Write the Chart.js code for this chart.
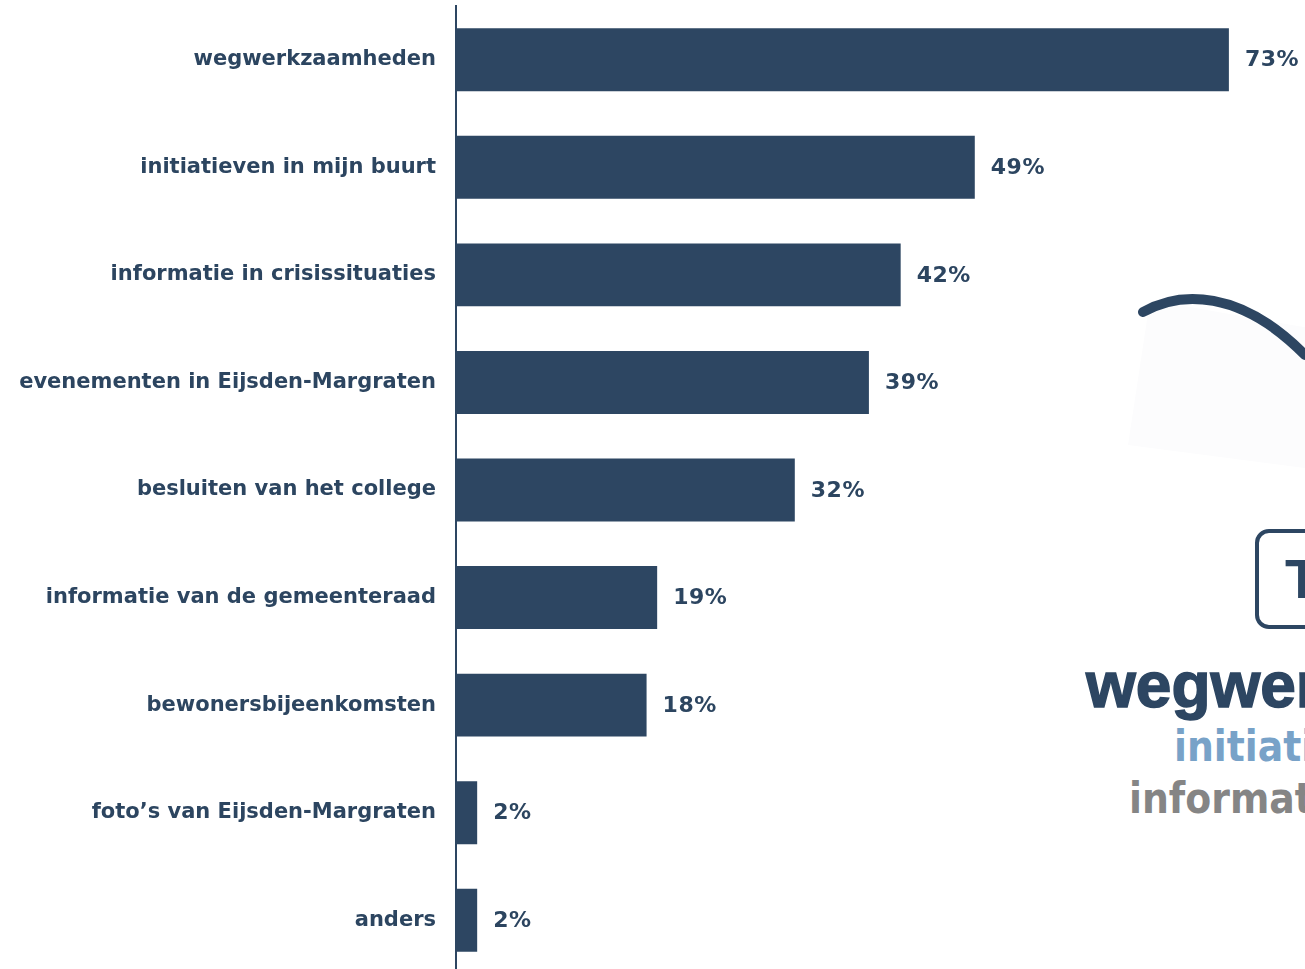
<!DOCTYPE html>
<html>
<head>
<meta charset="utf-8">
<script src="https://cdn.jsdelivr.net/npm/chart.js@4"></script>
<style>
  html, body { margin: 0; padding: 0; background: #fff; overflow: hidden; }
  #wrap { position: relative; width: 1305px; height: 969px; overflow: hidden; }
  #box { position: absolute; left: 0; top: 0; width: 1305px; height: 974px; }
  .deco { position: absolute; white-space: nowrap; }
  #top3 {
    left: 1255px; top: 529px; width: 160px; height: 92px;
    border: 4px solid #2d4662; border-radius: 14px; box-sizing: content-box;
    font: bold 56px 'Liberation Sans', Arial, sans-serif; color: #2d4662;
    line-height: 92px; padding-left: 26px;
  }
  #t1 { left: 1086px; top: 648px; font: bold 64px 'Liberation Sans', Arial, sans-serif; color: #2d4662; -webkit-text-stroke: 1.5px #2d4662; }
  #t2 { left: 1174px; top: 722px; font: bold 42px 'Liberation Sans Narrow', 'DejaVu Sans Condensed', sans-serif; color: #78a2c8; }
  #t3 { left: 1129px; top: 774px; font: bold 42px 'Liberation Sans Narrow', 'DejaVu Sans Condensed', sans-serif; color: #858585; }
  svg { position: absolute; left: 0; top: 0; }
</style>
</head>
<body>
<div id="wrap">
  <svg width="1305" height="969">
    <polygon points="1150,300 1320,330 1320,470 1128,445" fill="#fcfcfd"/>
    <path d="M1143,312 C1180,291 1240,289 1305,355" stroke="#2d4662" stroke-width="10" fill="none" stroke-linecap="round"/>
  </svg>
  <div class="deco" id="top3">Top 3</div>
  <div class="deco" id="t1">wegwerkzaamheden</div>
  <div class="deco" id="t2">initiatieven in mijn buurt</div>
  <div class="deco" id="t3">informatie in crisissituaties</div>
  <div id="box"><canvas id="chart"></canvas></div>
</div>
<script>
const categories = [
  "wegwerkzaamheden",
  "initiatieven in mijn buurt",
  "informatie in crisissituaties",
  "evenementen in Eijsden-Margraten",
  "besluiten van het college",
  "informatie van de gemeenteraad",
  "bewonersbijeenkomsten",
  "foto’s van Eijsden-Margraten",
  "anders"
];
const percentages = [73, 49, 42, 39, 32, 19, 18, 2, 2];

const navy = '#2d4662';
const labelFont = { family: "'DejaVu Sans', Verdana, sans-serif", weight: 'bold', size: 21 };

// percentage next to each bar
const valueLabels = {
  id: 'valueLabels',
  afterDatasetsDraw(chart) {
    const ctx = chart.ctx;
    const meta = chart.getDatasetMeta(0);
    ctx.save();
    ctx.font = `bold 22px 'DejaVu Sans', Verdana, sans-serif`;
    ctx.letterSpacing = '0.5px';
    ctx.fillStyle = '#2c4560';
    ctx.textAlign = 'left';
    ctx.textBaseline = 'middle';
    meta.data.forEach((bar, i) => {
      ctx.fillText(percentages[i] + '%', bar.x + 16, bar.y + 1);
    });
    ctx.restore();
  }
};

new Chart(document.getElementById('chart'), {
  type: 'bar',
  data: {
    labels: categories,
    datasets: [{
      data: percentages,
      backgroundColor: navy,
      barPercentage: 0.585,
      categoryPercentage: 1
    }]
  },
  options: {
    indexAxis: 'y',
    responsive: true,
    maintainAspectRatio: false,
    animation: false,
    layout: { padding: { top: 6, right: 2, bottom: 0, left: 0 } },
    plugins: { legend: { display: false }, tooltip: { enabled: false } },
    scales: {
      x: { display: false, min: 0, max: 80 },
      y: {
        afterFit: s => { s.width = 456; s.paddingTop = 0; s.paddingBottom = 0; },
        grid: { display: false, drawTicks: false },
        border: { display: true, color: navy, width: 2 },
        ticks: { color: '#2c4560', font: labelFont, padding: 20 }
      }
    }
  },
  plugins: [valueLabels]
});
</script>
</body>
</html>
